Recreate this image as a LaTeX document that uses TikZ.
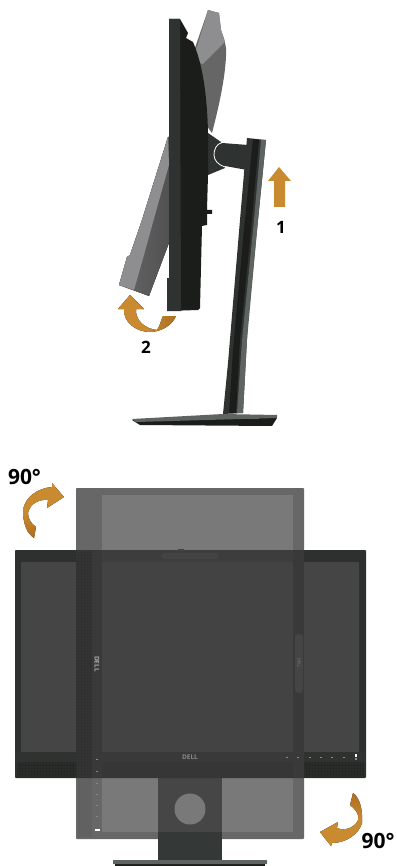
\documentclass[tikz,border=0pt]{standalone}
\usepackage{fontspec}
\setmainfont{Open Sans}
\definecolor{arrowO}{HTML}{C98A30}
\definecolor{arrowD}{HTML}{AE6F20}
\definecolor{bez}{HTML}{2D302E}
\definecolor{scr}{HTML}{454545}
\definecolor{ovl}{HTML}{434343}
\definecolor{darkm}{HTML}{1B1D1B}
\definecolor{midm}{HTML}{2E3230}
\definecolor{lightg}{HTML}{8E8E90}
\definecolor{midg}{HTML}{666666}
\definecolor{steel}{HTML}{5E6462}
\definecolor{pout}{HTML}{676767}
\definecolor{pinner}{HTML}{797979}
\definecolor{stripA}{HTML}{393939}
\definecolor{stripB}{HTML}{343434}
\definecolor{bandA}{HTML}{303231}
\definecolor{bandB}{HTML}{393939}
\definecolor{grillA}{HTML}{2A2C2A}
\definecolor{grillB}{HTML}{363636}
\definecolor{topov}{HTML}{3C3D3C}
\definecolor{neck}{HTML}{464646}
\definecolor{neckB}{HTML}{343837}
\definecolor{dotc}{HTML}{8A8A8A}
\begin{document}
\begin{tikzpicture}[x=1pt,y=-1pt,line join=round,
  lbl/.style={inner sep=0pt,font=\bfseries\fontsize{#1}{#1}\selectfont,text=black},
  logotext/.style={inner sep=0pt,text=#1,font=\bfseries\fontsize{6.5}{6.5}\selectfont}]
\useasboundingbox (0,0) rectangle (396,866);
\fill[white] (0,0) rectangle (396,866);
% --- side view: tilted back monitor
\fill[midg] (208,10) -- (219,13) -- (221,30) .. controls (225,40) and (227,50) .. (226,56) .. controls (225,80) and (218,110) .. (212,133) -- (180,90) -- (195,48) -- cycle;
\fill[lightg] (208,10) -- (219,13) -- (221,30) -- (225,42) -- (203,64) -- (190,60) -- (197,47) -- cycle;
\fill[left color=midg,right color=darkm!30!midg] (168,137) -- (142,220) -- (130,255) -- (127,257) -- (119,285) -- (149,296) -- (172,235) -- (172,137) -- cycle;
\fill[lightg] (168,137) -- (142,220) -- (130,255) -- (127,257) -- (119,285) -- (134,290) -- (144,255) -- (155,215) -- (169,165) -- cycle;
% --- hinge and arm
\fill[midm] (208,133) -- (221,142) -- (225,168) -- (208,175) -- cycle;
\fill[midm] (222,143) -- (248,145) -- (247,170) -- (225,166) .. controls (218,164) and (215,160) .. (214,155) .. controls (214,150) and (217,145) .. (222,143) -- cycle;
\draw[white,line width=.8pt] (222,142.5) .. controls (216,144) and (214,150) .. (214,155) .. controls (214,160) and (218,165) .. (225,167);
% --- stand
\fill[midm] (247,138) -- (266,140) -- (258,220) -- (248,320) -- (243,413) -- (223,414) -- (228,363) -- (240,220) -- cycle;
\fill[darkm] (253,139) -- (259,140) -- (250,240) -- (240,340) -- (236,413) -- (229,413) -- (233,350) -- (243,240) -- cycle;
\fill[steel] (261,140) -- (266,140) -- (258,220) -- (247,340) -- (243,413) -- (237,413) -- (242,340) -- (254,220) -- cycle;
% --- base
\fill[darkm] (132,420) -- (140,425) -- (272,426) -- (277,418) -- cycle;
\fill[steel] (132,419) -- (223,414) -- (277,415) -- (277,418) -- (136,422) -- cycle;
% --- side view: front monitor
\fill[darkm] (169,19) -- (180,19) -- (188,33) -- (186,38) -- (193,42) .. controls (200,58) and (207,85) .. (208,133) -- (208,175) -- (207,210) -- (212,210) -- (212,214) -- (207,214) -- (207,225) -- (202,226) -- (200,308) -- (198,310) -- (167,311) -- (167,278) -- (169,278) -- cycle;
\fill[midm] (169,19) -- (180,19) -- (181,311) -- (167,311) -- (167,278) -- (169,278) -- cycle;
% --- arrow 1
\fill[arrowO] (279,167) -- (291,181) -- (285,181) -- (285,207) -- (274,207) -- (274,181) -- (268,181) -- cycle;
\node[lbl=17] (one) at (281,227) {1};
% --- arrow 2
\fill[left color=arrowO,right color=arrowD,middle color=arrowO] (130,295) -- (144,309) -- (136,309) .. controls (135,320) and (145,329) .. (157,330) .. controls (160,326) and (161,320) .. (163,316) -- (176,316) .. controls (172,326) and (160,332) .. (150,332) .. controls (136,332) and (123,322) .. (124,309) -- (118,309) -- cycle;
\node[lbl=17] (two) at (146,347) {2};
% --- front view: portrait monitor
\fill[pout,rounded corners=.8pt] (76,488) rectangle (304,839);
\fill[pinner] (102,495) rectangle (293,832);
% portrait speaker strip below the landscape monitor
\fill[black,opacity=.05] (78,778) rectangle (92,837);
% stand behind
\fill[neck] (158,778) rectangle (222,832);
\fill[neckB] (158,832) rectangle (222,860);
\fill[darkm] (115,863) rectangle (265,866);
\fill[steel,rounded corners=.5pt] (113,860) rectangle (267,864);
\fill[pinner] (190,809) circle (15.5);
% dots on portrait monitor, lower part
\foreach \yy in {783,794,805,816} \fill[dotc] (96,\yy) rectangle (98,\yy+1);
\fill[white] (95,829) rectangle (100,830.5);
% --- landscape monitor
\fill[bez,rounded corners=.8pt] (15,550) rectangle (366,778);
\fill[scr] (21,562) rectangle (359,752);
\fill[bandA] (15,752) rectangle (366,762);
\fill[grillA] (17,762) rectangle (364,777);
% overlap of the two monitors
\fill[ovl] (102,562) rectangle (293,752);
\fill[topov] (102,550) rectangle (293,562);
\fill[bandB] (102,752) rectangle (293,762);
\fill[grillB] (102,762) rectangle (293,778);
\fill[stripA] (92,550) rectangle (102,778);
\fill[stripB] (76,550) rectangle (92,778);
\fill[stripA] (293,550) rectangle (304,778);
% speaker texture
\foreach \xx in {78,81,...,91} \draw[black,opacity=.05,line width=.5pt] (\xx,552) -- (\xx,778);
\foreach \yy in {552,555,...,778} \draw[black,opacity=.05,line width=.5pt] (76,\yy) -- (92,\yy);
\foreach \xx in {19,22,...,76} \draw[black,opacity=.08,line width=.4pt] (\xx,762) -- (\xx,777);
\foreach \xx in {306,309,...,364} \draw[black,opacity=.08,line width=.4pt] (\xx,762) -- (\xx,777);
\foreach \yy in {765,768,...,777} {\draw[black,opacity=.08,line width=.4pt] (17,\yy) -- (76,\yy); \draw[black,opacity=.08,line width=.4pt] (306,\yy) -- (364,\yy);}
% webcam pill and side pill
\fill[ovl,rounded corners=3pt] (161,553) rectangle (219,559);
\fill[ovl] (178,549) rectangle (184,551);
\fill[scr,rounded corners=3.5pt] (295,634) rectangle (303,693);
% logos
\node[logotext=dotc!70!white,rotate=-90] (dellside) at (97,664) {DELL};
\node[logotext=dotc] (dellfront) at (190,757.5) {DELL};
\node[logotext=scr!80!white,rotate=-90,font=\bfseries\fontsize{4}{4}\selectfont] (dellpill) at (299,663) {DELL};
% dots
\foreach \yy in {759,771} \fill[dotc] (96,\yy) rectangle (98,\yy+1);
\foreach \xx in {286,297,309,320,331,343} \fill[dotc] (\xx,757) rectangle (\xx+1.5,758);
\fill[white] (355,754) rectangle (357,757);
\fill[dotc] (355,758) rectangle (357,760);
% --- rotation arrows
\fill[top color=arrowO,bottom color=arrowD,middle color=arrowO] (64,497) -- (47,508) -- (48,500) .. controls (40,499) and (30,503) .. (28,513) .. controls (28,520) and (32,524) .. (36,527) -- (34,538) .. controls (28,534) and (23,526) .. (23,510) .. controls (25,497) and (38,488) .. (52,487) -- (52,483) -- cycle;
\node[lbl=21] (ninetyA) at (24.5,477) {90°};
\fill[bottom color=arrowO,top color=arrowD,middle color=arrowO] (320,832) -- (338,822) -- (337,828) .. controls (346,832) and (356,826) .. (358,820) .. controls (360,814) and (354,808) .. (350,805) -- (353,793) .. controls (359,797) and (363,808) .. (362,823) .. controls (359,834) and (346,843) .. (332,843) -- (331,846) -- cycle;
\node[lbl=21] (ninetyB) at (378,841) {90°};
\end{tikzpicture}
\end{document}
